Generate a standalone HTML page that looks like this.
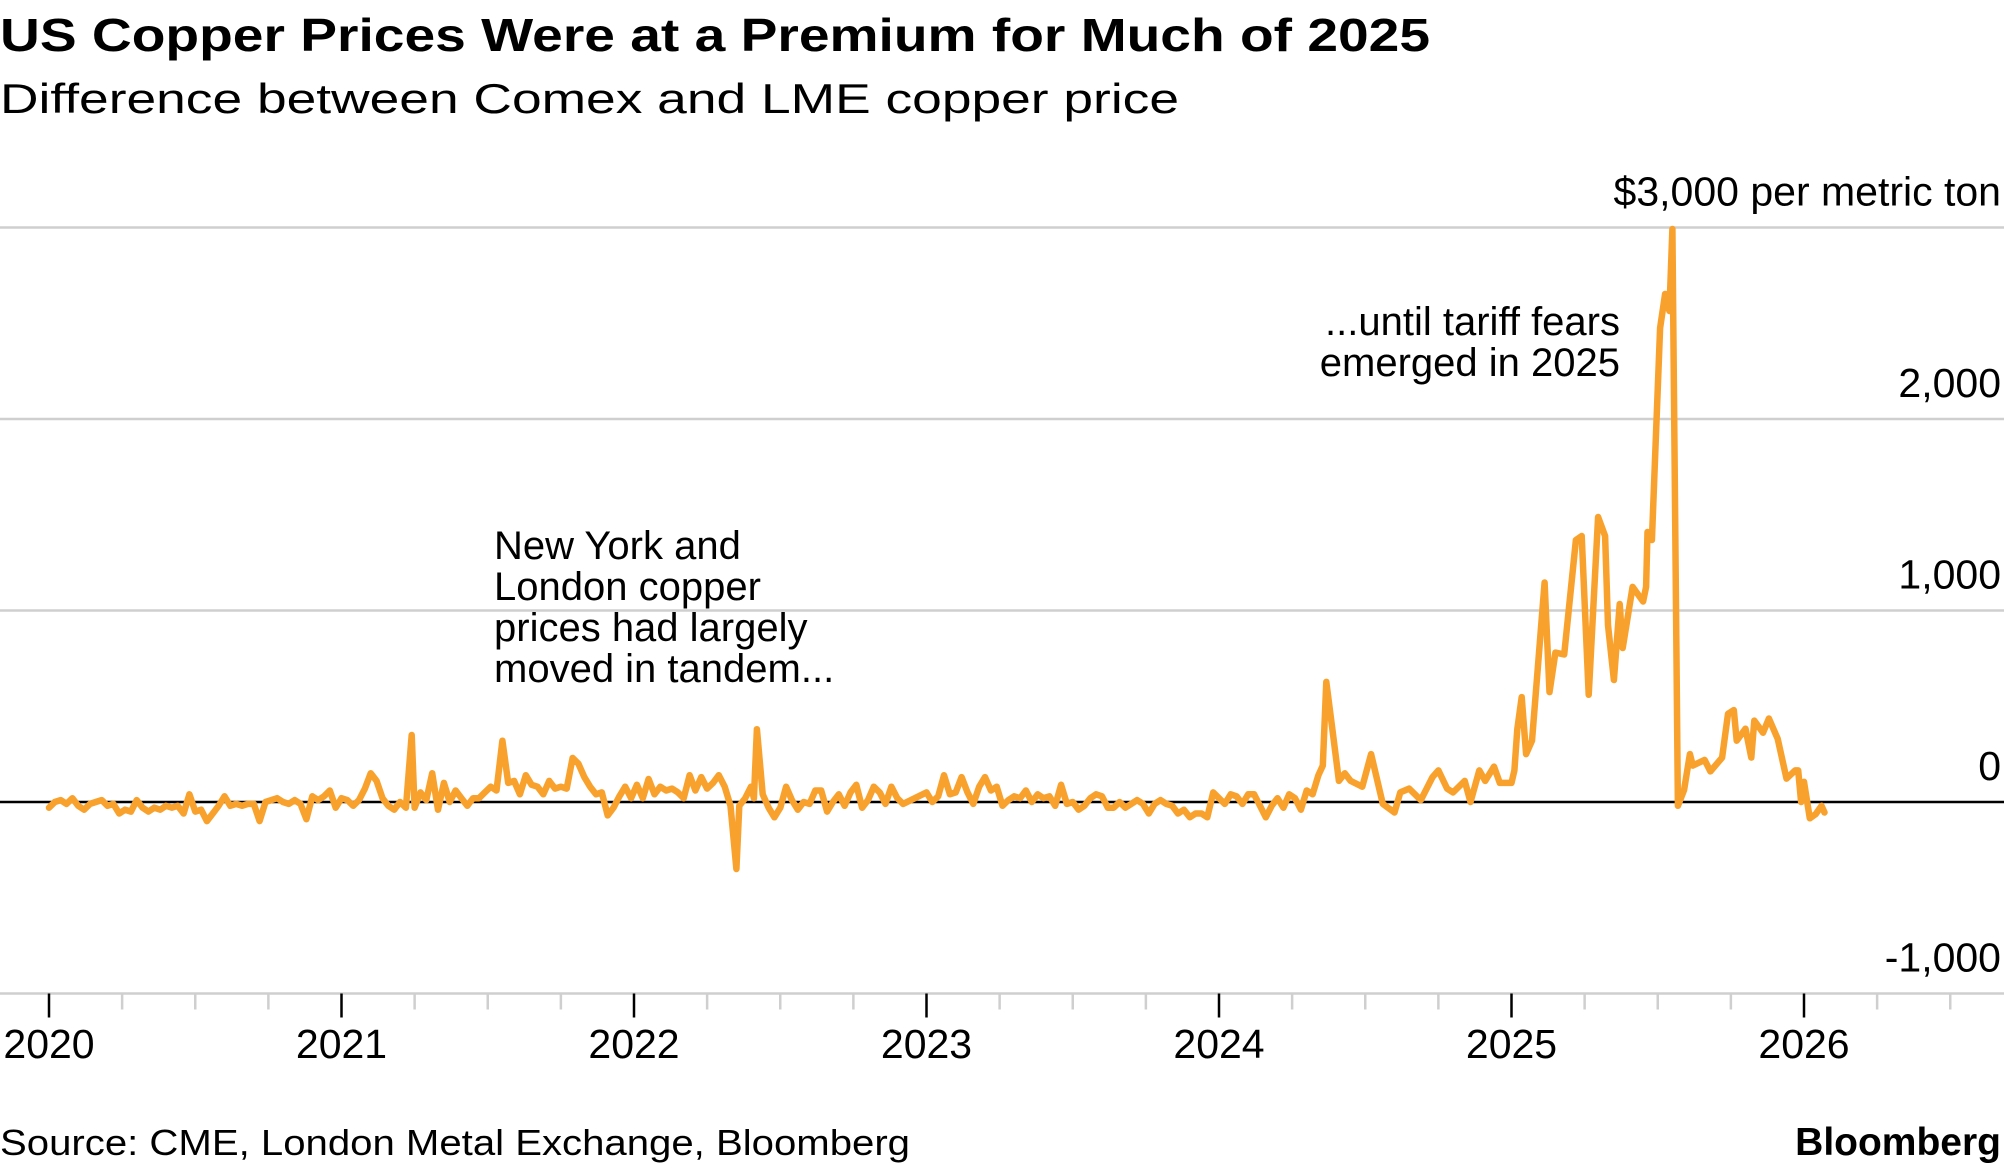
<!DOCTYPE html>
<html><head><meta charset="utf-8"><style>
html,body{margin:0;padding:0;background:#fff;}
svg{display:block;font-family:"Liberation Sans",Arial,sans-serif;}
</style></head><body>
<svg id="chart" width="2004" height="1170" viewBox="0 0 2004 1170" xmlns="http://www.w3.org/2000/svg">
<text x="0" y="51" font-size="46" font-weight="bold" textLength="1430" lengthAdjust="spacingAndGlyphs">US Copper Prices Were at a Premium for Much of 2025</text>
<text x="0" y="113" font-size="42" textLength="1179" lengthAdjust="spacingAndGlyphs">Difference between Comex and LME copper price</text>
<g id="grid"></g>
<g id="yl"></g>
<g id="xa"></g>
<path id="line" fill="none" stroke="#f9a12d" stroke-width="6.5" stroke-linejoin="round" stroke-linecap="round"/>
<g font-size="40">
<text x="494" y="559">New York and</text>
<text x="494" y="600">London copper</text>
<text x="494" y="641">prices had largely</text>
<text x="494" y="682">moved in tandem...</text>
</g>
<g font-size="40" text-anchor="end">
<text x="1620" y="335">...until tariff fears</text>
<text x="1620" y="376">emerged in 2025</text>
</g>
<text x="0" y="1155" font-size="36" textLength="910" lengthAdjust="spacingAndGlyphs">Source: CME, London Metal Exchange, Bloomberg</text>
<text x="2001" y="1155" font-size="39" font-weight="bold" text-anchor="end">Bloomberg</text>
</svg>
<script>
const yTicks = [3000, 2000, 1000, 0, -1000];
const yTickLabels = ["$3,000 per metric ton", "2,000", "1,000", "0", "-1,000"];
const xYears = [2020, 2021, 2022, 2023, 2024, 2025, 2026];
const dates = [
2020.00,2020.02,2020.04,2020.06,2020.08,2020.10,2020.12,2020.14,2020.16,2020.18,2020.20,2020.22,2020.24,2020.26,2020.28,2020.30,2020.32,2020.34,2020.36,2020.38,2020.40,2020.42,2020.44,2020.46,2020.48,2020.50,2020.52,2020.54,2020.56,2020.58,2020.60,2020.62,2020.64,2020.66,2020.68,2020.70,2020.72,2020.74,2020.76,2020.78,2020.80,2020.82,2020.84,2020.86,2020.88,2020.90,2020.92,2020.94,2020.96,2020.98,
2021.00,2021.02,2021.04,2021.06,2021.08,2021.10,2021.12,2021.14,2021.16,2021.18,2021.20,2021.22,2021.24,2021.25,2021.27,2021.29,2021.31,2021.33,2021.35,2021.37,2021.39,2021.41,2021.43,2021.45,2021.47,2021.49,2021.51,2021.53,2021.55,2021.57,2021.59,2021.61,2021.63,2021.65,2021.67,2021.69,2021.71,2021.73,2021.75,2021.77,2021.79,2021.81,2021.83,2021.85,2021.87,2021.89,2021.91,2021.93,2021.95,2021.97,2021.99,
2022.01,2022.03,2022.05,2022.07,2022.09,2022.11,2022.13,2022.15,2022.17,2022.19,2022.21,2022.23,2022.25,2022.27,2022.29,2022.31,2022.33,2022.35,2022.36,2022.38,2022.40,2022.41,2022.42,2022.44,2022.46,2022.48,2022.50,2022.52,2022.54,2022.56,2022.58,2022.60,2022.62,2022.64,2022.66,2022.68,2022.70,2022.72,2022.74,2022.76,2022.78,2022.80,2022.82,2022.84,2022.86,2022.88,2022.90,2022.92,
2023.00,2023.02,2023.04,2023.06,2023.08,2023.10,2023.12,2023.14,2023.16,2023.18,2023.20,2023.22,2023.24,2023.26,2023.28,2023.30,2023.32,2023.34,2023.36,2023.38,2023.40,2023.42,2023.44,2023.46,2023.48,2023.50,2023.52,2023.54,2023.56,2023.58,2023.60,2023.62,2023.64,2023.66,2023.68,2023.70,2023.72,2023.74,2023.76,2023.78,2023.80,2023.82,2023.84,2023.86,2023.88,2023.90,2023.92,2023.94,2023.96,2023.98,
2024.00,2024.02,2024.04,2024.06,2024.08,2024.10,2024.12,2024.14,2024.16,2024.18,2024.20,2024.22,2024.24,2024.26,2024.28,2024.30,2024.32,2024.34,2024.355,2024.367,2024.39,2024.41,2024.43,2024.45,2024.49,2024.52,2024.56,2024.60,2024.62,2024.65,2024.69,2024.73,2024.75,2024.78,2024.80,2024.84,2024.86,2024.89,2024.91,2024.94,2024.96,
2025.00,2025.01,2025.02,2025.035,2025.05,2025.07,2025.09,2025.113,2025.13,2025.15,2025.18,2025.22,2025.24,2025.264,2025.296,2025.32,2025.33,2025.35,2025.37,2025.38,2025.414,2025.45,2025.46,2025.465,2025.48,2025.508,2025.525,2025.54,2025.55,2025.569,2025.59,2025.61,2025.62,2025.66,2025.68,2025.72,2025.74,2025.76,2025.77,2025.80,2025.82,2025.83,2025.86,2025.88,2025.91,2025.94,2025.97,2025.98,2025.99,
2026.00,2026.02,2026.04,2026.06,2026.07
];
const values = [
-30,0,10,-10,20,-20,-40,-10,0,10,-20,-10,-60,-40,-50,10,-30,-50,-30,-40,-20,-30,-20,-60,40,-50,-40,-100,-60,-20,30,-20,-10,-20,-10,-10,-100,0,10,20,0,-10,10,-10,-90,30,10,30,60,-30,
20,10,-20,10,70,150,110,20,-20,-40,0,-30,350,-30,50,10,150,-40,100,0,60,20,-20,20,20,50,80,60,320,100,110,40,140,90,80,40,110,70,80,70,230,200,130,80,40,50,-70,-30,30,80,20,
90,20,120,40,80,60,70,50,20,140,60,130,70,100,140,80,-20,-350,-20,20,80,20,380,40,-30,-80,-30,80,10,-40,0,-10,60,60,-50,0,40,-20,50,90,-30,10,80,50,-10,80,20,-10,
50,0,30,140,40,50,130,50,-10,80,130,60,80,-20,10,30,20,60,0,40,20,30,-20,90,-10,0,-40,-20,20,40,30,-30,-30,0,-30,-10,10,-10,-60,-10,10,-10,-20,-60,-40,-80,-60,-60,-80,50,
20,-10,40,30,-10,40,40,-20,-80,-20,20,-30,40,20,-40,60,40,140,190,627,350,110,150,110,80,250,-10,-55,50,70,10,130,165,70,50,110,0,165,110,185,100,
100,165,380,548,250,320,700,1146,574,780,770,1368,1389,560,1488,1389,924,637,1034,804,1123,1047,1123,1410,1368,2475,2653,2564,2992,-20,63,250,190,220,160,232,460,480,320,383,232,425,362,436,330,122,165,165,0,
105,-85,-63,-20,-55
];
const NS = "http://www.w3.org/2000/svg";
const X0 = 49, PX_YEAR = 292.5, Y0 = 802, PX_UNIT = 0.1915;
function xs(yr){ return X0 + (yr - 2020) * PX_YEAR; }
function ys(v){ return Y0 - v * PX_UNIT; }
function mk(tag, attrs){ const e = document.createElementNS(NS, tag); for (const k in attrs) e.setAttribute(k, attrs[k]); return e; }
const grid = document.getElementById('grid'), yl = document.getElementById('yl'), xa = document.getElementById('xa');
yTicks.forEach((t, i) => {
  const yy = ys(t);
  const ln = mk('line', {x1: 0, x2: 2004, y1: yy, y2: yy, stroke: t === 0 ? '#000' : '#cfcfcf', 'stroke-width': 2.5});
  
  
  if (t === 0) xa.appendChild(ln); else grid.appendChild(ln);
  const tx = mk('text', {x: 2001, y: yy - 22, 'font-size': 41, 'text-anchor': 'end'});
  
  
  tx.textContent = yTickLabels[i];
  yl.appendChild(tx);
});
for (let q = 0; q <= 6 * 4 + 3; q++) {
  const yr = 2020 + q / 4, x = xs(yr), major = q % 4 === 0;
  const tk = mk('line', {x1: x, x2: x, y1: ys(-1000), y2: ys(-1000) + (major ? 24 : 16), stroke: major ? '#000' : '#cfcfcf', 'stroke-width': 2.5});
  
  
  xa.appendChild(tk);
}
xYears.forEach(yr => {
  const tx = mk('text', {x: xs(yr), y: 1058, 'font-size': 41, 'text-anchor': 'middle'});
  
  
  tx.textContent = String(yr);
  xa.appendChild(tx);
});
let d = '';
dates.forEach((yr, i) => { d += (i ? 'L' : 'M') + xs(yr).toFixed(1) + ',' + ys(values[i]).toFixed(1); });
document.getElementById('line').setAttribute('d', d);
</script>
</body></html>
